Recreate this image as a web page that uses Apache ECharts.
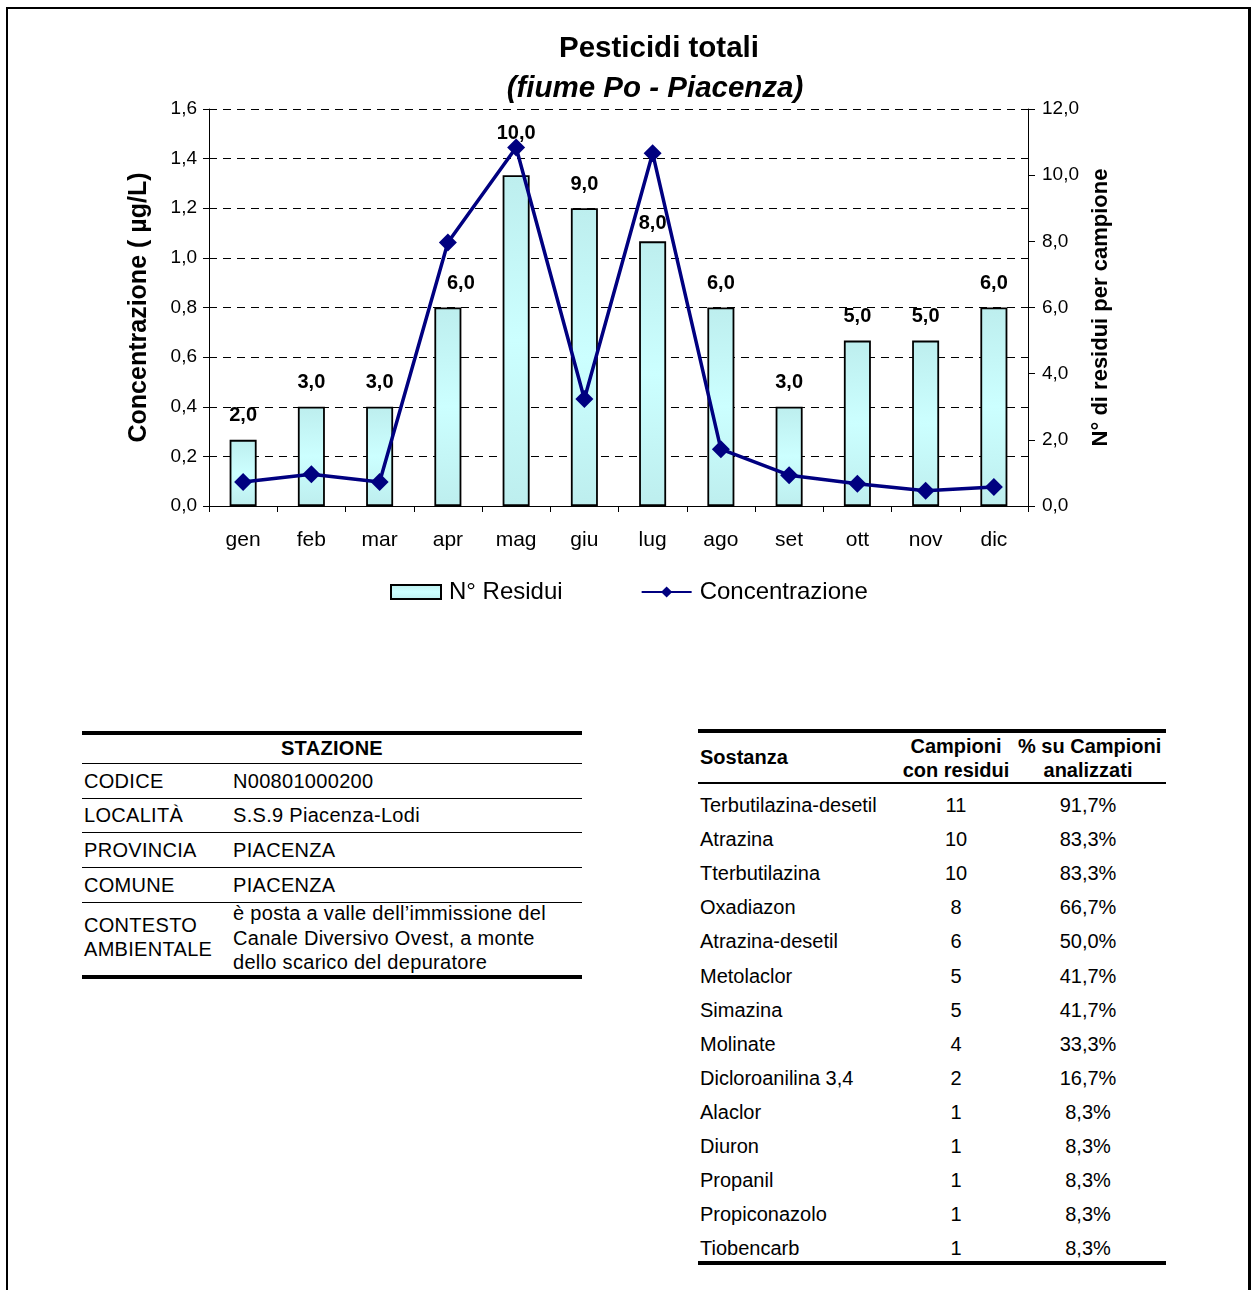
<!DOCTYPE html>
<html>
<head>
<meta charset="utf-8">
<script src="https://cdn.jsdelivr.net/npm/echarts@6/dist/echarts.min.js"></script>
<style>
  html, body { margin:0; padding:0; background:#fff; }
  body { width:1254px; height:1290px; position:relative; overflow:hidden; font-family: Arial, "Liberation Sans", sans-serif; color:#000; }
  #frame { position:absolute; left:6px; top:7px; width:1245px; height:1300px; border-left:2px solid #000; border-top:2px solid #000; border-right:3px solid #000; box-sizing:border-box; }
  #chart { position:absolute; left:0; top:0; width:1254px; height:640px; }
  .tbl { position:absolute; }
  .hr { position:absolute; left:0; right:0; background:#000; }
  .cell { position:absolute; white-space:nowrap; }
</style>
</head>
<body>
<div id="frame"></div>
<div id="chart"></div>
<div id="stazione" class="tbl" style="left:82px; top:730px; width:500px; height:252px;"></div>
<div id="sostanze" class="tbl" style="left:698px; top:728px; width:468px; height:540px;"></div>
<script>
// ---- chart data ----
const months = ['gen','feb','mar','apr','mag','giu','lug','ago','set','ott','nov','dic'];
const residui = [2, 3, 3, 6, 10, 9, 8, 6, 3, 5, 5, 6];
const concentrazione = [0.097, 0.128, 0.097, 1.062, 1.445, 0.431, 1.422, 0.229, 0.124, 0.090, 0.061, 0.077];
const leftTicks = [0, 0.2, 0.4, 0.6, 0.8, 1.0, 1.2, 1.4, 1.6];
const rightTicks = [0, 2, 4, 6, 8, 10, 12];

// ---- table data ----
const stazioneKeys = ['CODICE','LOCALITÀ','PROVINCIA','COMUNE','CONTESTO\nAMBIENTALE'];
const stazioneVals = ['N00801000200','S.S.9 Piacenza-Lodi','PIACENZA','PIACENZA',"è posta a valle dell’immissione del\nCanale Diversivo Ovest, a monte\ndello scarico del depuratore"];
const sostanze = ['Terbutilazina-desetil','Atrazina','Tterbutilazina','Oxadiazon','Atrazina-desetil','Metolaclor','Simazina','Molinate','Dicloroanilina 3,4','Alaclor','Diuron','Propanil','Propiconazolo','Tiobencarb'];
const campioni = [11, 10, 10, 8, 6, 5, 5, 4, 2, 1, 1, 1, 1, 1];
const percentuali = ['91,7%','83,3%','83,3%','66,7%','50,0%','41,7%','41,7%','33,3%','16,7%','8,3%','8,3%','8,3%','8,3%','8,3%'];

const fmt1 = v => Number(v).toFixed(1).replace('.', ',');
const FONT = 'Arial, "Liberation Sans", sans-serif';

// label placement tweaks (Excel labels moved manually near the line)
const labelTweak = { 3: { offset: [13, 0] }, 4: { distance: 32 }, 6: { distance: 8 } };

const chart = echarts.init(document.getElementById('chart'), null, {renderer:'canvas'});
chart.setOption({
  animation: false,
  textStyle: { fontFamily: FONT, color: '#000' },
  title: [
    { text: 'Pesticidi totali', left: 654, top: 29, textAlign: 'center',
      textStyle: { fontFamily: FONT, fontSize: 29.5, fontWeight: 'bold', color: '#000' } },
    { text: '(fiume Po - Piacenza)', left: 650, top: 69, textAlign: 'center',
      textStyle: { fontFamily: FONT, fontSize: 29.5, fontWeight: 'bold', fontStyle: 'italic', color: '#000' } }
  ],
  legend: {
    left: 385, top: 575, itemGap: 78, itemWidth: 50, itemHeight: 14,
    textStyle: { fontFamily: FONT, fontSize: 24, color: '#000', padding: [0,0,0,3] },
    data: [
      { name: 'N° Residui', icon: 'rect' },
      { name: 'Concentrazione' }
    ]
  },
  grid: { left: 209, top: 109, width: 819, height: 397, containLabel: false },
  xAxis: {
    type: 'category', data: months, boundaryGap: true,
    axisLine: { show: true, lineStyle: { color: '#000', width: 1 } },
    axisTick: { show: true, inside: false, length: 6, alignWithLabel: false, lineStyle: { color: '#000' } },
    axisLabel: { fontFamily: FONT, fontSize: 21, color: '#000', margin: 24 },
    splitLine: { show: false }
  },
  yAxis: [
    { type: 'value', min: 0, max: 1.6, interval: 0.2, position: 'left',
      name: 'Concentrazione ( µg/L)', nameLocation: 'middle', nameRotate: 90, nameGap: 57,
      nameTextStyle: { fontFamily: FONT, fontSize: 25, fontWeight: 'bold', color: '#000' },
      axisLine: { show: true, lineStyle: { color: '#000', width: 1 } },
      axisTick: { show: true, length: 6, lineStyle: { color: '#000' } },
      axisLabel: { fontFamily: FONT, fontSize: 19, color: '#000', margin: 12, formatter: v => fmt1(v) },
      splitLine: { show: true, lineStyle: { color: '#000', type: [8, 6], width: 1 } }
    },
    { type: 'value', min: 0, max: 12, interval: 2, position: 'right',
      name: 'N° di residui per campione', nameLocation: 'middle', nameRotate: 90, nameGap: 62,
      nameTextStyle: { fontFamily: FONT, fontSize: 22, fontWeight: 'bold', color: '#000' },
      axisLine: { show: true, lineStyle: { color: '#000', width: 1 } },
      axisTick: { show: true, length: 7, lineStyle: { color: '#000' } },
      axisLabel: { fontFamily: FONT, fontSize: 19, color: '#000', margin: 14, formatter: v => fmt1(v) },
      splitLine: { show: false }
    }
  ],
  series: [
    { name: 'N° Residui', type: 'bar', yAxisIndex: 1, barWidth: 27, z: 2,
      data: residui.map((v, i) => labelTweak[i] ? { value: v, label: labelTweak[i] } : v),
      itemStyle: {
        color: new echarts.graphic.LinearGradient(0, 0, 0, 1, [
          { offset: 0, color: '#bdeeee' }, { offset: 0.5, color: '#ccffff' }, { offset: 1, color: '#bdeeee' }
        ]),
        borderColor: '#000', borderWidth: 1.8
      },
      label: { show: true, position: 'top', distance: 14, fontFamily: FONT, fontSize: 20, fontWeight: 'bold', color: '#000',
        formatter: p => fmt1(p.value) }
    },
    { name: 'Concentrazione', type: 'line', yAxisIndex: 0, data: concentrazione, z: 5,
      symbol: 'diamond', symbolSize: 18,
      lineStyle: { color: '#000080', width: 3.5 },
      itemStyle: { color: '#000080' }
    }
  ]
});

// ---- tables (HTML text) ----
function el(parent, cls, style, text) {
  const d = document.createElement('div');
  d.className = cls; d.setAttribute('style', style);
  if (text !== undefined) d.textContent = text;
  parent.appendChild(d); return d;
}
// Stazione table
(function(){
  const t = document.getElementById('stazione');
  const fs = 'font-size:20px; letter-spacing:0.3px;';
  el(t, 'hr', 'top:1px; height:4px;');
  el(t, 'cell', fs + 'left:0; width:500px; text-align:center; top:7px; font-weight:bold; line-height:22px;', 'STAZIONE');
  el(t, 'hr', 'top:33px; height:1px;');
  const rowTops = [34, 68, 103, 138, 173];
  const rowH = [34, 34, 34, 34, 72];
  for (let i = 0; i < stazioneKeys.length; i++) {
    const top = rowTops[i];
    if (i < 4) {
      el(t, 'cell', fs + 'left:2px; top:' + (top + 5) + 'px; line-height:24px;', stazioneKeys[i]);
      el(t, 'cell', fs + 'left:151px; top:' + (top + 5) + 'px; line-height:24px;', stazioneVals[i]);
      el(t, 'hr', 'top:' + (top + rowH[i]) + 'px; height:1px;');
    } else {
      el(t, 'cell', fs + 'left:2px; top:' + (top + 10) + 'px; line-height:24px; white-space:pre;', stazioneKeys[i]);
      el(t, 'cell', fs + 'left:151px; top:' + (top - 2) + 'px; line-height:24.5px; white-space:pre;', stazioneVals[i]);
      el(t, 'hr', 'top:' + (top + rowH[i]) + 'px; height:4px;');
    }
  }
})();
// Sostanze table
(function(){
  const t = document.getElementById('sostanze');
  const fs = 'font-size:20px;';
  el(t, 'hr', 'top:1px; height:4px;');
  el(t, 'cell', fs + 'left:2px; top:17px; font-weight:bold; line-height:24px;', 'Sostanza');
  el(t, 'cell', fs + 'left:188px; width:140px; text-align:center; top:6px; font-weight:bold; line-height:24px; white-space:pre;', 'Campioni\ncon residui');
  el(t, 'cell', fs + 'left:320px; width:140px; text-align:center; top:6px; font-weight:bold; line-height:24px; white-space:pre;', '% su Campioni\nanalizzati');
  el(t, 'hr', 'top:54px; height:2px;');
  for (let i = 0; i < sostanze.length; i++) {
    const top = 65 + i * 34.1;
    el(t, 'cell', fs + 'left:2px; top:' + top + 'px; line-height:24px;', sostanze[i]);
    el(t, 'cell', fs + 'left:208px; width:100px; text-align:center; top:' + top + 'px; line-height:24px;', String(campioni[i]));
    el(t, 'cell', fs + 'left:340px; width:100px; text-align:center; top:' + top + 'px; line-height:24px;', percentuali[i]);
  }
  el(t, 'hr', 'top:533px; height:4px;');
})();
</script>
</body>
</html>
